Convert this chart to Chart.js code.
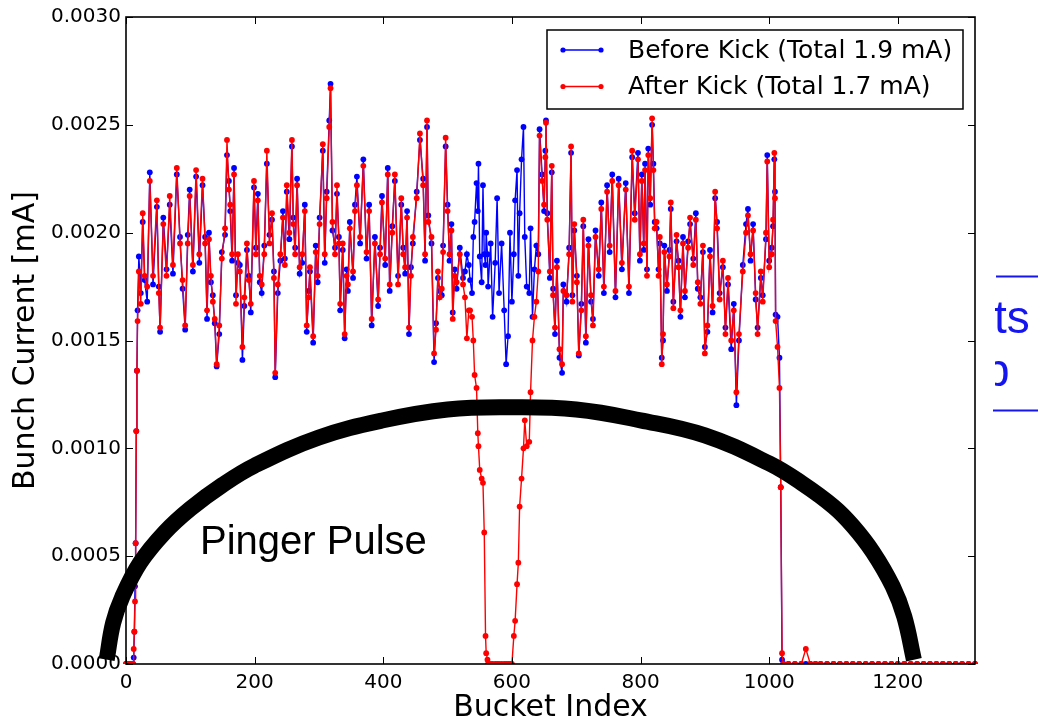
<!DOCTYPE html>
<html>
<head>
<meta charset="utf-8">
<script src="https://cdn.jsdelivr.net/npm/chart.js@4.4.1/dist/chart.umd.min.js"></script>
<style>
  html, body { margin: 0; padding: 0; background: #fff; }
  #chart { display: block; }
</style>
</head>
<body>
<canvas id="chart" width="1038" height="728"></canvas>
<script>
const buckets = [
  0, 4, 8, 11, 12, 13, 14, 15, 16, 17,
  18, 20, 23, 26, 29, 33, 37, 42, 48, 51,
  53, 58, 63, 68, 73, 79, 84, 88, 92, 96,
  99, 104, 109, 114, 119, 123, 126, 129, 132, 135,
  138, 141, 145, 149, 154, 157, 160, 162, 165, 168,
  171, 174, 177, 181, 184, 188, 191, 194, 199, 202,
  205, 208, 211, 215, 219, 223, 227, 230, 232, 236,
  240, 244, 247, 250, 254, 258, 260, 263, 266, 270,
  274, 278, 281, 284, 286, 291, 295, 298, 301, 306,
  309, 312, 316, 318, 321, 325, 328, 331, 333, 337,
  340, 343, 345, 348, 353, 356, 359, 364, 369, 374,
  378, 382, 387, 392, 395, 398, 403, 407, 410, 414,
  418, 423, 428, 431, 434, 437, 440, 443, 446, 452,
  457, 462, 465, 468, 470, 475, 479, 482, 485, 488,
  491, 493, 497, 500, 503, 506, 508, 511, 514, 519,
  524, 527, 530, 533, 535, 538, 540, 542, 545, 547,
  548, 550, 553, 555, 557, 559, 560, 562, 563, 567,
  570, 574, 577, 580, 584, 588, 591, 594, 597, 600,
  603, 605, 608, 610, 612, 615, 618, 620, 623, 627,
  629, 632, 635, 638, 641, 643, 647, 650, 652, 653,
  655, 659, 662, 664, 667, 670, 674, 678, 680, 685,
  689, 692, 694, 697, 701, 704, 708, 711, 715, 719,
  723, 726, 730, 735, 739, 743, 748, 752, 756, 761,
  766, 771, 777, 782, 787, 791, 796, 799, 802, 805,
  807, 810, 812, 815, 818, 820, 822, 825, 828, 830,
  833, 835, 837, 841, 845, 847, 851, 856, 859, 862,
  866, 869, 874, 877, 882, 886, 889, 893, 897, 900,
  904, 908, 912, 916, 919, 923, 928, 932, 936, 941,
  945, 949, 953, 959, 964, 967, 971, 975, 979, 982,
  987, 990, 995, 997, 1000, 1004, 1006, 1008, 1009, 1010,
  1013, 1016, 1018, 1020, 1022, 1030, 1040, 1050, 1057, 1064,
  1072, 1080, 1090, 1100, 1110, 1120, 1130, 1140, 1150, 1160,
  1170, 1180, 1190, 1200, 1210, 1220, 1230, 1240, 1250, 1260,
  1270, 1280, 1290, 1300, 1310, 1320
];

// bunch current [mA] before the kick
const beforeKick = [
  0, 0, 0, 0, 0.00003, 0.00015, 0.00036, 0.00056, 0.00108, 0.00136,
  0.00164, 0.00189, 0.00172, 0.00205, 0.00178, 0.00168, 0.00228, 0.00176, 0.00212, 0.00175,
  0.00154, 0.00207, 0.00183, 0.00213, 0.00181, 0.00227, 0.00198, 0.00174, 0.00155, 0.00199,
  0.0022, 0.00182, 0.00226, 0.00186, 0.00222, 0.00198, 0.0016, 0.002, 0.00177, 0.00171,
  0.00158, 0.00138, 0.00153, 0.00191, 0.00199, 0.00236, 0.00224, 0.0021, 0.00187, 0.0023,
  0.00171, 0.00186, 0.00185, 0.00141, 0.00166, 0.00192, 0.0018, 0.00163, 0.00221, 0.00193,
  0.00218, 0.00177, 0.00172, 0.00194, 0.00232, 0.00199, 0.00206, 0.00182, 0.00133, 0.00172,
  0.00187, 0.0021, 0.00188, 0.00219, 0.00197, 0.0024, 0.00207, 0.00193, 0.00225, 0.00181,
  0.00186, 0.00213, 0.00154, 0.00173, 0.00182, 0.00149, 0.00194, 0.00177, 0.00207, 0.00238,
  0.00186, 0.00219, 0.00252, 0.00269, 0.00201, 0.00193, 0.00218, 0.00198, 0.00164, 0.00192,
  0.00151, 0.00183, 0.00173, 0.00205, 0.00179, 0.00213, 0.00226, 0.00195, 0.00234, 0.00188,
  0.00213, 0.00157, 0.00198, 0.00166, 0.00193, 0.00217, 0.00185, 0.0023, 0.00173, 0.00203,
  0.00224, 0.0018, 0.00213, 0.00193, 0.00181, 0.0021, 0.00153, 0.00184, 0.00195, 0.00219,
  0.00243, 0.00225, 0.00187, 0.00249, 0.00208, 0.00195, 0.0014, 0.00158, 0.00179, 0.00173,
  0.00171, 0.00194, 0.0024, 0.00213, 0.00187, 0.00204, 0.00163, 0.00183, 0.00174, 0.00193,
  0.00179, 0.00182, 0.0019, 0.00185, 0.00178, 0.00172, 0.00198, 0.00205, 0.00223, 0.0021,
  0.00232, 0.00189, 0.00177, 0.00222, 0.0019, 0.00185, 0.002, 0.0019, 0.00175, 0.00195,
  0.00161, 0.00186, 0.00216, 0.00172, 0.00195, 0.00164, 0.00139, 0.00152, 0.002, 0.00168,
  0.0019, 0.00215, 0.00229, 0.0018, 0.00209, 0.00234, 0.00249, 0.00198, 0.00175, 0.00172,
  0.00202, 0.00161, 0.00183, 0.00194, 0.0019, 0.00248, 0.00227, 0.0021, 0.00238, 0.00252,
  0.00209, 0.00179, 0.00228, 0.00174, 0.00153, 0.00187, 0.00142, 0.00135, 0.00176, 0.00168,
  0.00193, 0.00237, 0.00171, 0.00201, 0.0018, 0.00143, 0.00167, 0.00203, 0.00149, 0.00197,
  0.00168, 0.0016, 0.00201, 0.0018, 0.00214, 0.00172, 0.00222, 0.00191, 0.00227, 0.0017,
  0.00225, 0.00183, 0.00223, 0.00172, 0.00235, 0.00209, 0.00237, 0.00187, 0.00227, 0.00192,
  0.00232, 0.00183, 0.00239, 0.00213, 0.0025, 0.00232, 0.00205, 0.00202, 0.00183, 0.00195,
  0.00142, 0.0015, 0.00194, 0.00173, 0.00192, 0.00211, 0.00168, 0.00196, 0.00187, 0.00161,
  0.00198, 0.0017, 0.00196, 0.00204, 0.00188, 0.00209, 0.00174, 0.0017, 0.00191, 0.00147,
  0.00154, 0.00192, 0.00163, 0.00216, 0.00205, 0.00172, 0.00184, 0.00156, 0.00176, 0.00146,
  0.00167, 0.0012, 0.0015, 0.00185, 0.00204, 0.00211, 0.00187, 0.00204, 0.00169, 0.00156,
  0.00179, 0.00171, 0.00197, 0.00236, 0.00187, 0.00193, 0.00203, 0.00234, 0.00219, 0.00162,
  0.00161, 0.00142, 0.00082, 0.00002, 0, 0, 0, 0, 0, 0,
  0, 0, 0, 0, 0, 0, 0, 0, 0, 0,
  0, 0, 0, 0, 0, 0, 0, 0, 0, 0,
  0, 0, 0, 0, 0, 0
];

// bunch current [mA] after the kick
const afterKick = [
  0, 0, 0, 0, 0.00007, 0.00015, 0.00029, 0.00056, 0.00108, 0.00136,
  0.00159, 0.00182, 0.00167, 0.00209, 0.0018, 0.00175, 0.00224, 0.0018, 0.00215, 0.00172,
  0.00156, 0.00204, 0.0018, 0.00217, 0.00185, 0.0023, 0.00195, 0.00178, 0.00157, 0.00195,
  0.00217, 0.00185, 0.00229, 0.0019, 0.00225, 0.00195, 0.00164, 0.00197, 0.0018, 0.00168,
  0.0016, 0.00139, 0.00157, 0.00188, 0.00202, 0.00243, 0.0022, 0.00213, 0.0019, 0.00227,
  0.00167, 0.0019, 0.00182, 0.00147, 0.0017, 0.00195, 0.00178, 0.00167, 0.00224, 0.0019,
  0.00215, 0.0018, 0.00176, 0.0019, 0.00238, 0.00195, 0.00209, 0.00179, 0.00135, 0.00176,
  0.0019, 0.00207, 0.00185, 0.00222, 0.002, 0.00243, 0.00204, 0.0019, 0.00222, 0.00184,
  0.0019, 0.0021, 0.00157, 0.0017, 0.00184, 0.00152, 0.00191, 0.0018, 0.00204, 0.00241,
  0.0019, 0.00216, 0.00249, 0.00267, 0.00205, 0.0019, 0.00222, 0.00195, 0.00167, 0.00195,
  0.00153, 0.0018, 0.00176, 0.00202, 0.00182, 0.0021, 0.00222, 0.00198, 0.00231, 0.00191,
  0.0021, 0.0016, 0.00195, 0.00169, 0.0019, 0.00214, 0.00188, 0.00227, 0.00176, 0.002,
  0.00227, 0.00176, 0.00216, 0.0019, 0.00184, 0.00207, 0.00156, 0.0018, 0.00198, 0.00216,
  0.00246, 0.00222, 0.0019, 0.00252, 0.00205, 0.00198, 0.00144, 0.00155, 0.00182, 0.0017,
  0.00174, 0.00191, 0.00244, 0.0021, 0.0019, 0.00201, 0.0016, 0.0018, 0.00177, 0.0019,
  0.00176, 0.0017, 0.00151, 0.00164, 0.00164, 0.00161, 0.0015, 0.00134, 0.00128, 0.00107,
  0.00101, 0.0009, 0.00086, 0.00084, 0.00061, 0.00013, 0.00005, 0.00002, 0, 0,
  0, 0, 0, 0, 0, 0, 0, 0, 0, 0,
  0.00013, 0.0002, 0.00037, 0.00047, 0.00073, 0.00086, 0.001, 0.00113, 0.00101, 0.00103,
  0.00126, 0.0015, 0.00161, 0.00168, 0.00182, 0.00245, 0.00224, 0.00213, 0.00235, 0.00251,
  0.00206, 0.00182, 0.00231, 0.00171, 0.00156, 0.00184, 0.00146, 0.00139, 0.00173, 0.00171,
  0.0019, 0.0024, 0.00168, 0.00204, 0.00177, 0.00144, 0.00164, 0.00206, 0.00152, 0.00194,
  0.00171, 0.00157, 0.00198, 0.00183, 0.00211, 0.00175, 0.00219, 0.00194, 0.00224, 0.00173,
  0.00222, 0.00186, 0.0022, 0.00175, 0.00238, 0.00206, 0.00234, 0.0019, 0.00224, 0.00195,
  0.00229, 0.0018, 0.00236, 0.00216, 0.00253, 0.00229, 0.00202, 0.00205, 0.0018, 0.00198,
  0.00139, 0.00153, 0.00191, 0.00176, 0.00189, 0.00214, 0.00165, 0.00199, 0.00184, 0.00164,
  0.00195, 0.00173, 0.00193, 0.00207, 0.00185, 0.00206, 0.00177, 0.00167, 0.00194, 0.00144,
  0.00157, 0.00189, 0.00166, 0.00219, 0.00202, 0.00169, 0.00187, 0.00153, 0.00179, 0.0015,
  0.00164, 0.00126, 0.00153, 0.00182, 0.002, 0.00208, 0.0019, 0.00201, 0.00172, 0.00153,
  0.00182, 0.00168, 0.002, 0.00233, 0.00184, 0.0019, 0.00206, 0.00237, 0.00216, 0.00159,
  0.00147, 0.00128, 0.00082, 0.00005, 0, 0, 0, 0, 0.00007, 0,
  0, 0, 0, 0, 0, 0, 0, 0, 0, 0,
  0, 0, 0, 0, 0, 0, 0, 0, 0, 0,
  0, 0, 0, 0, 0, 0
];

// hand-drawn "Pinger Pulse" arc (bucket, mA)
const pulseBuckets = [-30, -20, -6, 22, 60, 100, 150, 200, 300, 400, 500, 597, 700, 800, 900, 1000, 1050, 1100, 1130, 1161, 1192, 1210, 1225];
const pulseHeights = [0.00002, 0.00019, 0.00031, 0.00047, 0.00061, 0.00072, 0.00083, 0.00092, 0.00105, 0.00113, 0.00118, 0.00119, 0.00118, 0.00113, 0.00106, 0.00093, 0.00084, 0.00073, 0.00064, 0.00052, 0.00036, 0.00022, 0.00002];

const xTicks = [0, 200, 400, 600, 800, 1000, 1200];
const yTicks = [0, 0.0005, 0.001, 0.0015, 0.002, 0.0025, 0.003];
const xRange = [0, 1320];
const yRange = [0, 0.003];

const seriesLabels = ['Before Kick (Total 1.9 mA)', 'After Kick (Total 1.7 mA)'];
const pulseLabel = 'Pinger Pulse';

const toPoints = (xs, ys) => xs.map((x, i) => ({ x: x, y: ys[i] }));

// frame + inward ticks on all four sides, like the matplotlib classic style
const frameTicks = {
    id: 'frameTicks',
    afterDatasetsDraw(chart) {
        const { ctx, chartArea: a, scales: { x, y } } = chart;
        ctx.save();
        ctx.strokeStyle = '#000';
        ctx.lineWidth = 1;
        ctx.beginPath();
        xTicks.forEach(v => {
            const px = Math.round(x.getPixelForValue(v)) + 0.5;
            ctx.moveTo(px, a.bottom); ctx.lineTo(px, a.bottom - 7);
            ctx.moveTo(px, a.top); ctx.lineTo(px, a.top + 7);
        });
        yTicks.forEach(v => {
            const py = Math.round(y.getPixelForValue(v)) + 0.5;
            ctx.moveTo(a.left, py); ctx.lineTo(a.left + 7, py);
            ctx.moveTo(a.right, py); ctx.lineTo(a.right - 7, py);
        });
        ctx.stroke();
        ctx.lineWidth = 1.6;
        ctx.strokeRect(a.left, a.top, a.right - a.left, a.bottom - a.top);
        ctx.restore();
    }
};

// legend box, pulse label and the cut-off slide text on the right
const overlay = {
    id: 'overlay',
    afterDraw(chart) {
        const { ctx, chartArea: a, scales: { x, y } } = chart;
        const colors = ['#0000ff', '#ff0000'];
        ctx.save();

        // legend
        const bw = 416, bh = 79;
        const bx = a.right - 12 - bw, by = a.top + 13;
        ctx.fillStyle = '#fff';
        ctx.fillRect(bx, by, bw, bh);
        ctx.strokeStyle = '#000';
        ctx.lineWidth = 1.5;
        ctx.strokeRect(bx, by, bw, bh);
        ctx.font = '25px "DejaVu Sans"';
        ctx.textBaseline = 'middle';
        ctx.textAlign = 'left';
        seriesLabels.forEach((label, i) => {
            const ly = by + 20 + i * 36.5;
            ctx.strokeStyle = colors[i];
            ctx.fillStyle = colors[i];
            ctx.lineWidth = 1.5;
            ctx.beginPath();
            ctx.moveTo(bx + 16, ly); ctx.lineTo(bx + 54, ly);
            ctx.stroke();
            [bx + 16, bx + 54].forEach(px => {
                ctx.beginPath(); ctx.arc(px, ly, 2.6, 0, Math.PI * 2); ctx.fill();
            });
            ctx.fillStyle = '#000';
            ctx.fillText(label, bx + 81, ly + 1);
        });

        // "Pinger Pulse"
        ctx.fillStyle = '#000';
        ctx.font = '40px "Liberation Sans"';
        ctx.textBaseline = 'middle';
        ctx.fillText(pulseLabel, x.getPixelForValue(115), y.getPixelForValue(0.00056));

        // slide text peeking out on the right
        ctx.strokeStyle = '#1515f0';
        ctx.lineWidth = 2;
        ctx.beginPath();
        ctx.moveTo(996, 276.5); ctx.lineTo(1038, 276.5);
        ctx.moveTo(993, 410.5); ctx.lineTo(1038, 410.5);
        ctx.stroke();
        ctx.beginPath();
        ctx.rect(995, 280, 43, 125);
        ctx.clip();
        ctx.fillStyle = '#1515f0';
        ctx.font = '46px "Liberation Sans"';
        ctx.textBaseline = 'alphabetic';
        ctx.fillText('ts', 994, 333);
        ctx.fillText('p', 984, 386);
        ctx.restore();
    }
};

const ctx = document.getElementById('chart').getContext('2d');
const chart = new Chart(ctx, {
    type: 'line',
    data: {
        datasets: [
            {
                label: pulseLabel,
                data: toPoints(pulseBuckets, pulseHeights),
                borderColor: '#000',
                borderWidth: 16,
                borderCapStyle: 'butt',
                borderJoinStyle: 'round',
                pointRadius: 0,
                tension: 0.4,
                clip: false,
                order: 0
            },
            {
                label: seriesLabels[1],
                data: toPoints(buckets, afterKick),
                borderColor: '#ff0000',
                backgroundColor: '#ff0000',
                borderWidth: 1.4,
                pointRadius: 2.9,
                pointBorderWidth: 0,
                tension: 0,
                order: 1
            },
            {
                label: seriesLabels[0],
                data: toPoints(buckets, beforeKick),
                borderColor: '#0000ff',
                backgroundColor: '#0000ff',
                borderWidth: 1.4,
                pointRadius: 2.9,
                pointBorderWidth: 0,
                tension: 0,
                order: 2
            }
        ]
    },
    options: {
        responsive: false,
        animation: false,
        devicePixelRatio: 1,
        layout: { padding: { left: 0, right: 63, top: 15, bottom: 0 } },
        plugins: { legend: { display: false }, tooltip: { enabled: false } },
        scales: {
            x: {
                type: 'linear',
                bounds: 'data',
                // range set after the data limits so the arc's off-axis ends still get drawn
                afterDataLimits: s => { s.min = xRange[0]; s.max = xRange[1]; },
                afterBuildTicks: s => {
                    s.min = xRange[0]; s.max = xRange[1];
                    s.ticks = xTicks.map(v => ({ value: v }));
                },
                grid: { display: false, drawTicks: false },
                border: { display: false },
                afterFit: s => { s.height = 64; },
                ticks: {
                    autoSkip: false,
                    maxRotation: 0,
                    padding: 7,
                    color: '#000',
                    font: { family: 'DejaVu Sans', size: 20 },
                    callback: v => String(v)
                },
                title: {
                    display: true,
                    text: 'Bucket Index',
                    color: '#000',
                    font: { family: 'DejaVu Sans', size: 30 },
                    padding: { top: 0, bottom: 2 }
                }
            },
            y: {
                min: yRange[0],
                max: yRange[1],
                grid: { display: false, drawTicks: false },
                border: { display: false },
                afterBuildTicks: s => { s.ticks = yTicks.map(v => ({ value: v })); },
                afterFit: s => { s.width = 126; },
                ticks: {
                    padding: 5,
                    color: '#000',
                    font: { family: 'DejaVu Sans', size: 20 },
                    callback: v => Number(v).toFixed(4)
                },
                title: {
                    display: true,
                    text: 'Bunch Current [mA]',
                    color: '#000',
                    font: { family: 'DejaVu Sans', size: 30 },
                    padding: { top: 8, bottom: 0 }
                }
            }
        }
    },
    plugins: [frameTicks, overlay]
});
</script>
</body>
</html>
